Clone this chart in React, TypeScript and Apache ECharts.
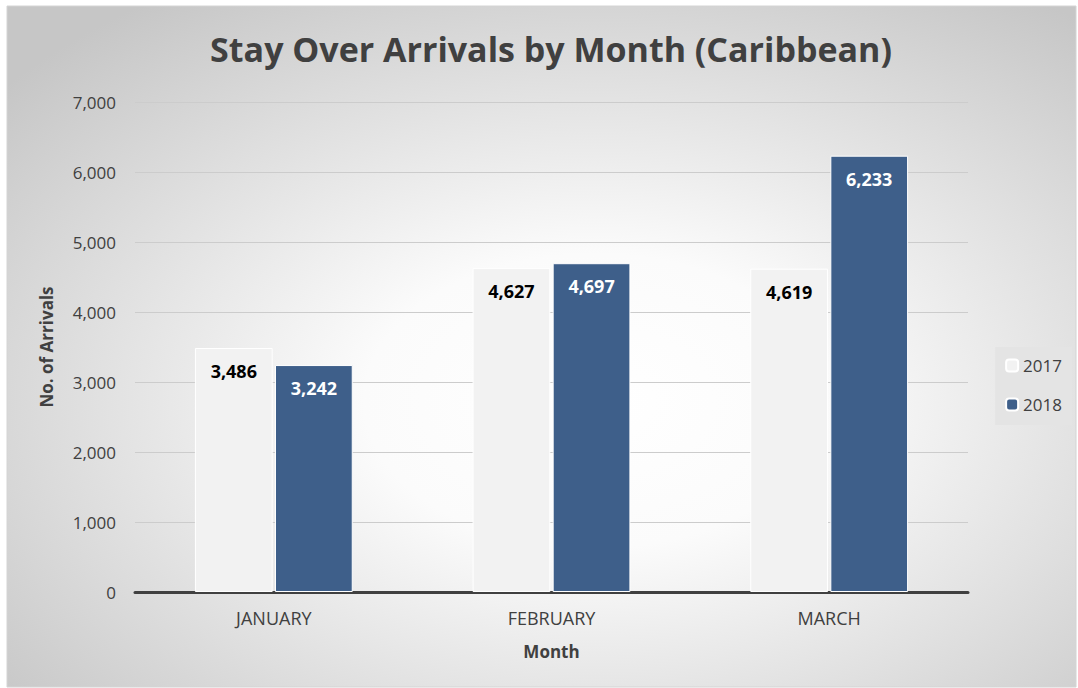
import React, { useEffect, useRef } from "react";
import * as echarts from "echarts";

const months = ["JANUARY", "FEBRUARY", "MARCH"];
const values2017 = [3486, 4627, 4619];
const values2018 = [3242, 4697, 6233];
const seriesNames = ["2017", "2018"];

const FONT = "'Open Sans', 'Noto Sans', sans-serif";

export default function App() {
  const ref = useRef<HTMLDivElement>(null);
  useEffect(() => {
    document.body.style.margin = "0";
    const chart = echarts.init(ref.current!, null, { renderer: "svg" });
    const fmt = (v: number) => v.toLocaleString("en-US");
    chart.setOption({
      animation: false,
      backgroundColor: "#ffffff",
      textStyle: { fontFamily: FONT },
      graphic: [
        {
          type: "rect",
          z: -10,
          silent: true,
          shape: { x: 7, y: 6, width: 1069, height: 681 },
          style: {
            fill: new echarts.graphic.RadialGradient(0.55, 0.58, 0.72, [
              { offset: 0, color: "#ffffff" },
              { offset: 0.3, color: "#fbfbfb" },
              { offset: 1, color: "#c6c6c6" },
            ]),
            stroke: "#d4d4d4",
            lineWidth: 1,
          },
        },
      ],
      title: {
        text: "Stay Over Arrivals by Month (Caribbean)",
        left: 546,
        top: 27,
        textAlign: "center",
        textStyle: {
          fontFamily: FONT,
          fontSize: 34,
          fontWeight: "bold",
          color: "#404040",
        },
      },
      legend: {
        orient: "vertical",
        right: 6,
        top: 347,
        backgroundColor: "#e4e4e4",
        padding: [10, 10, 12, 10],
        itemWidth: 12,
        itemHeight: 12,
        itemGap: 22,
        data: seriesNames,
        textStyle: { fontFamily: FONT, fontSize: 17, color: "#404040" },
      },
      grid: { left: 135, right: 110, top: 102, bottom: 96 },
      xAxis: {
        type: "category",
        data: months,
        name: "Month",
        nameLocation: "middle",
        nameGap: 51,
        nameTextStyle: {
          fontFamily: FONT,
          fontSize: 17,
          fontWeight: "bold",
          color: "#404040",
        },
        axisLine: { lineStyle: { color: "#404040", width: 3 } },
        axisTick: { show: false },
        axisLabel: {
          fontFamily: FONT,
          fontSize: 18,
          color: "#404040",
          margin: 17,
        },
      },
      yAxis: {
        type: "value",
        min: 0,
        max: 7000,
        interval: 1000,
        name: "No. of Arrivals",
        nameLocation: "middle",
        nameGap: 80,
        nameTextStyle: {
          fontFamily: FONT,
          fontSize: 17,
          fontWeight: "bold",
          color: "#404040",
        },
        axisLine: { show: false },
        axisTick: { show: false },
        splitLine: { lineStyle: { color: "#cccccc", width: 1 } },
        axisLabel: {
          fontFamily: FONT,
          fontSize: 17,
          color: "#404040",
          margin: 19,
          formatter: (v: number) => fmt(v),
        },
      },
      series: [
        {
          name: seriesNames[0],
          type: "bar",
          data: values2017,
          barWidth: "28%",
          barGap: "3%",
          itemStyle: { color: "#f2f2f2", borderColor: "#ffffff", borderWidth: 1 },
          label: {
            show: true,
            position: "insideTop",
            distance: 14,
            fontFamily: FONT,
            fontSize: 18,
            fontWeight: "bold",
            color: "#000000",
            formatter: (p: any) => fmt(p.value),
          },
        },
        {
          name: seriesNames[1],
          type: "bar",
          data: values2018,
          barWidth: "28%",
          itemStyle: { color: "#3e5f8a", borderColor: "#ffffff", borderWidth: 1 },
          label: {
            show: true,
            position: "insideTop",
            distance: 14,
            fontFamily: FONT,
            fontSize: 18,
            fontWeight: "bold",
            color: "#ffffff",
            formatter: (p: any) => fmt(p.value),
          },
        },
      ],
    });
    return () => chart.dispose();
  }, []);
  return (
    <div
      ref={ref}
      style={{ position: "fixed", left: 0, top: 0, width: 1078, height: 688 }}
    />
  );
}
